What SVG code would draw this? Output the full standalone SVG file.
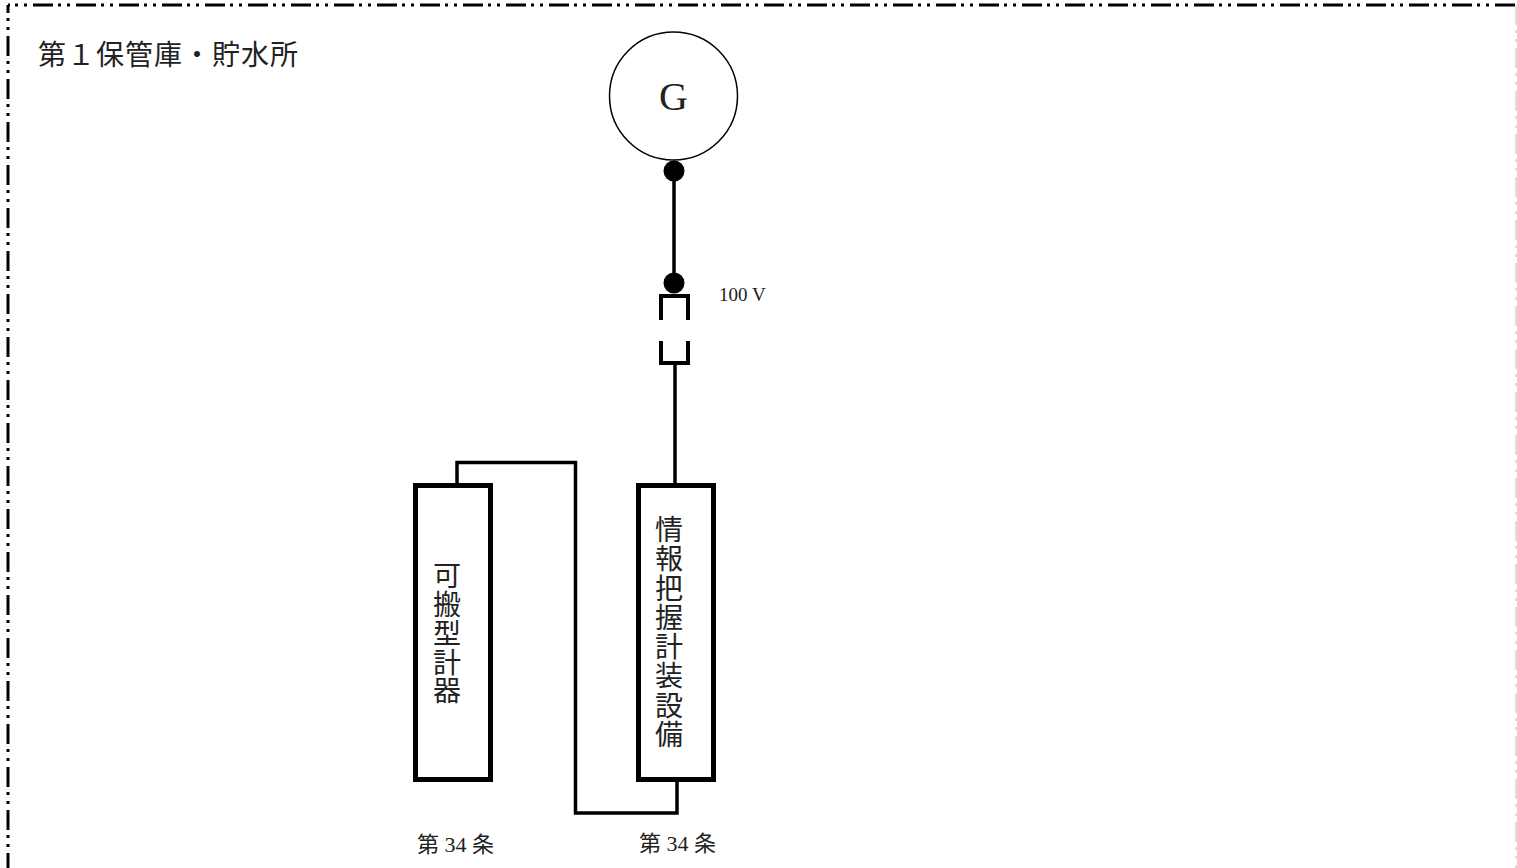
<svg xmlns="http://www.w3.org/2000/svg" width="1517" height="868" viewBox="0 0 1517 868">
<style>
.frame{fill:none;stroke:#000;stroke-width:3;stroke-dasharray:20 5 3 6 3 6}
.box{fill:#fff;stroke:#000;stroke-width:5}
.wire{fill:none;stroke:#000;stroke-width:3.5;stroke-linejoin:miter}
.plug{fill:none;stroke:#000;stroke-width:4;stroke-linejoin:miter}
.jp{font-family:"Liberation Serif","Noto Sans CJK JP",serif;fill:#222}
.lbl{font-size:28px}
.vt{font-size:28px;text-anchor:middle}
</style>
<rect width="1517" height="868" fill="#fff"/>
<g id="frame">
<line class="frame" x1="8" y1="5" x2="1516" y2="5" stroke-dashoffset="18"/>
<line class="frame" x1="8" y1="5" x2="8" y2="868" stroke-dashoffset="12"/>
<line x1="1516" y1="5" x2="1516" y2="868" stroke="#ddd" stroke-width="2" stroke-dasharray="20 5 3 6 3 6"/>
</g>
<text id="title" class="jp lbl" x="38" y="65" letter-spacing="1">第１保管庫・貯水所</text>
<g id="connectors">
<line class="wire" x1="674" y1="171" x2="674" y2="283" stroke-width="3"/>
<polyline class="plug" points="661,320 661,296 688,296 688,320"/>
<polyline class="plug" points="661,341 661,363 688,363 688,341"/>
<line class="wire" x1="675" y1="363" x2="675" y2="486" stroke-width="4"/>
<polyline class="wire" points="457,486 457,462.5 575.5,462.5 575.5,813 677,813 677,780"/>
</g>
<g id="generator">
<circle cx="673.5" cy="96" r="64" fill="#fff" stroke="#000" stroke-width="1.5"/>
<text x="673.5" y="110" font-family="Liberation Serif, serif" font-size="40" text-anchor="middle" fill="#222">G</text>
<circle cx="674" cy="171" r="10.5" fill="#000"/>
<circle cx="674" cy="283" r="10.5" fill="#000"/>
<text x="719" y="301" font-family="Liberation Serif, serif" font-size="19" fill="#222">100 V</text>
</g>
<g id="portable-instrument">
<rect class="box" x="415.5" y="485.5" width="75" height="294"/>
<text class="jp vt"><tspan x="447" y="586">可</tspan><tspan x="447" y="615">搬</tspan><tspan x="447" y="644">型</tspan><tspan x="447" y="673">計</tspan><tspan x="447" y="701">器</tspan></text>
<text class="jp" x="417" y="852" font-size="22">第 34 条</text>
</g>
<g id="info-instrumentation">
<rect class="box" x="638.5" y="485.5" width="75" height="294"/>
<text class="jp vt"><tspan x="669" y="540">情</tspan><tspan x="669" y="569">報</tspan><tspan x="669" y="599">把</tspan><tspan x="669" y="628">握</tspan><tspan x="669" y="657">計</tspan><tspan x="669" y="686">装</tspan><tspan x="669" y="716">設</tspan><tspan x="669" y="745">備</tspan></text>
<text class="jp" x="639" y="851" font-size="22">第 34 条</text>
</g>
</svg>
